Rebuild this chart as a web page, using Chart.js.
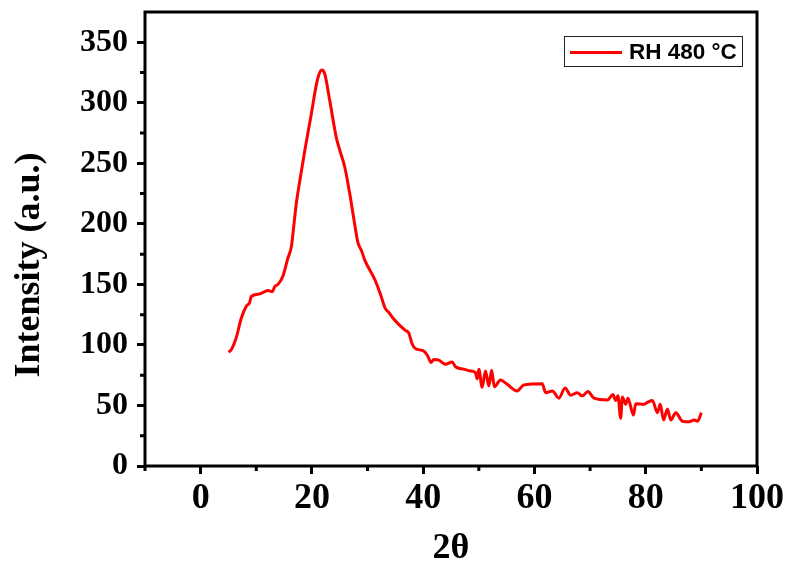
<!DOCTYPE html>
<html>
<head>
<meta charset="utf-8">
<script src="https://cdn.jsdelivr.net/npm/chart.js@4.4.1/dist/chart.umd.min.js"></script>
<style>
  html, body { margin: 0; padding: 0; background: #fff; }
  #wrap { width: 788px; height: 564px; }
</style>
</head>
<body>
<div id="wrap"><canvas id="c" width="788" height="564"></canvas></div>
<script>
// ---- data ----
const seriesLabel = 'RH 480 \u00B0C';
const twoTheta = [5.0, 5.5, 6.4, 7.3, 8.2, 8.8, 9.1, 10.6, 12.1, 12.9, 13.3, 13.9, 14.8, 15.7, 16.3, 16.9, 17.2, 17.8, 18.7, 19.9,
  20.8, 21.4, 21.8, 22.3, 23.2, 24.4, 25.0, 25.9, 26.8, 27.4, 28.3, 28.9, 29.5, 31.4, 32.3, 33.2, 33.8, 34.6, 35.6, 36.8,
  37.4, 38.0, 38.6, 40.1, 40.8, 41.4, 41.9, 42.8, 44.0, 45.2, 45.8, 47.3, 48.5, 49.4, 49.7, 50.0, 50.6, 51.2, 51.8, 52.3,
  52.8, 53.9, 55.1, 56.9, 58.1, 61.4, 62.0, 63.2, 64.4, 65.5, 66.5, 67.7, 68.6, 69.6, 70.7, 73.1, 74.1, 74.6, 75.0, 75.5,
  75.8, 76.4, 76.8, 77.8, 78.2, 79.7, 80.3, 81.2, 82.1, 82.6, 83.2, 83.9, 84.5, 85.4, 86.6, 87.8, 88.7, 89.3, 90.0];
const intensity = [94, 96, 106, 122, 132, 135, 140, 142, 145, 144, 148, 150, 157, 172, 181, 205, 217, 235, 260, 291,
  315, 325, 327, 324, 302, 271, 261, 247, 225, 208, 184, 178, 170, 153, 142, 130, 127, 122, 117, 112,
  110, 101, 97, 95, 91, 85.5, 88, 87.5, 84, 86, 82, 80, 78.5, 77, 72, 80, 65, 78.5, 66, 79,
  65.5, 71, 67.5, 62, 67, 68, 60.5, 62, 56, 64.5, 58.5, 60.5, 58, 61.5, 56, 54.5, 59, 54, 58, 39.5,
  57, 51, 56, 42, 51.5, 51, 52.5, 54, 44, 51, 38, 47, 38, 44, 37, 36.5, 38, 37, 44];
const xMajorTicks = [0, 20, 40, 60, 80, 100];
const xMinorTicks = [-10, 10, 30, 50, 70, 90];
const yMajorTicks = [0, 50, 100, 150, 200, 250, 300, 350];
const yMinorTicks = [25, 75, 125, 175, 225, 275, 325];
const xTitle = '2\u03B8';
const yTitle = 'Intensity (a.u.)';

const points = twoTheta.map((x, i) => ({ x: x, y: intensity[i] }));

const serif = '"Liberation Serif", "Times New Roman", serif';
const sans = '"Liberation Sans", Arial, sans-serif';

const framePlugin = {
  id: 'frame',
  afterDatasetsDraw(chart) {
    const { ctx, chartArea: a, scales } = chart;
    ctx.save();
    ctx.strokeStyle = '#000';
    // minor ticks
    ctx.lineWidth = 3;
    ctx.beginPath();
    xMinorTicks.forEach(v => {
      const px = scales.x.getPixelForValue(v);
      ctx.moveTo(px, a.bottom);
      ctx.lineTo(px, a.bottom + 5);
    });
    yMinorTicks.forEach(v => {
      const py = scales.y.getPixelForValue(v);
      ctx.moveTo(a.left, py);
      ctx.lineTo(a.left - 5, py);
    });
    ctx.stroke();
    // frame
    ctx.lineWidth = 3;
    ctx.strokeRect(a.left, a.top, a.right - a.left, a.bottom - a.top);
    // y axis title
    ctx.save();
    ctx.translate(30, 265);
    ctx.rotate(-Math.PI / 2);
    ctx.fillStyle = '#000';
    ctx.font = 'bold 36px ' + serif;
    ctx.textAlign = 'center';
    ctx.textBaseline = 'middle';
    ctx.fillText(yTitle, 0, 0);
    ctx.restore();
    // legend box
    const lx = 564.5, ly = 36.5, lw = 178, lh = 30;
    ctx.fillStyle = '#fff';
    ctx.fillRect(lx, ly, lw, lh);
    ctx.lineWidth = 1;
    ctx.strokeStyle = '#222';
    ctx.strokeRect(lx, ly, lw, lh);
    const ds = chart.data.datasets[0];
    ctx.strokeStyle = ds.borderColor;
    ctx.lineWidth = 3;
    ctx.beginPath();
    ctx.moveTo(570, 52.5);
    ctx.lineTo(622, 52.5);
    ctx.stroke();
    ctx.fillStyle = '#000';
    ctx.font = 'bold 22.5px ' + sans;
    ctx.textBaseline = 'middle';
    ctx.textAlign = 'left';
    ctx.fillText(ds.label, 629, 53);
    ctx.restore();
  }
};

new Chart(document.getElementById('c'), {
  type: 'line',
  data: {
    datasets: [{
      label: seriesLabel,
      data: points,
      borderColor: '#ff0000',
      borderWidth: 3,
      pointRadius: 0,
      fill: false,
      cubicInterpolationMode: 'monotone'
    }]
  },
  options: {
    responsive: false,
    animation: false,
    devicePixelRatio: 1,
    layout: { padding: { top: 12, right: 31, left: 0, bottom: 0 } },
    plugins: { legend: { display: false }, tooltip: { enabled: false } },
    scales: {
      x: {
        type: 'linear',
        min: -10,
        max: 100,
        afterBuildTicks: s => { s.ticks = xMajorTicks.map(v => ({ value: v })); },
        afterFit: s => { s.height = 98; s.paddingLeft = 0; s.paddingRight = 0; },
        border: { display: false },
        grid: { drawOnChartArea: false, drawTicks: true, tickLength: 8, tickWidth: 3, tickColor: '#000' },
        ticks: {
          color: '#000',
          padding: 7,
          maxRotation: 0,
          autoSkip: false,
          font: { family: serif, size: 36, weight: 'bold', lineHeight: 1 }
        },
        title: {
          display: true,
          text: xTitle,
          color: '#000',
          padding: { top: 0, bottom: -3 },
          font: { family: serif, size: 36, weight: 'bold', lineHeight: 1 }
        }
      },
      y: {
        type: 'linear',
        min: 0,
        max: 375,
        afterBuildTicks: s => { s.ticks = yMajorTicks.map(v => ({ value: v })); },
        afterFit: s => { s.width = 145; s.paddingTop = 0; s.paddingBottom = 0; },
        border: { display: false },
        grid: { drawOnChartArea: false, drawTicks: true, tickLength: 8, tickWidth: 3, tickColor: '#000' },
        ticks: {
          color: '#000',
          padding: 9,
          autoSkip: false,
          font: { family: serif, size: 32, weight: 'bold', lineHeight: 1 }
        },
        title: { display: false }
      }
    }
  },
  plugins: [framePlugin]
});
</script>
</body>
</html>
